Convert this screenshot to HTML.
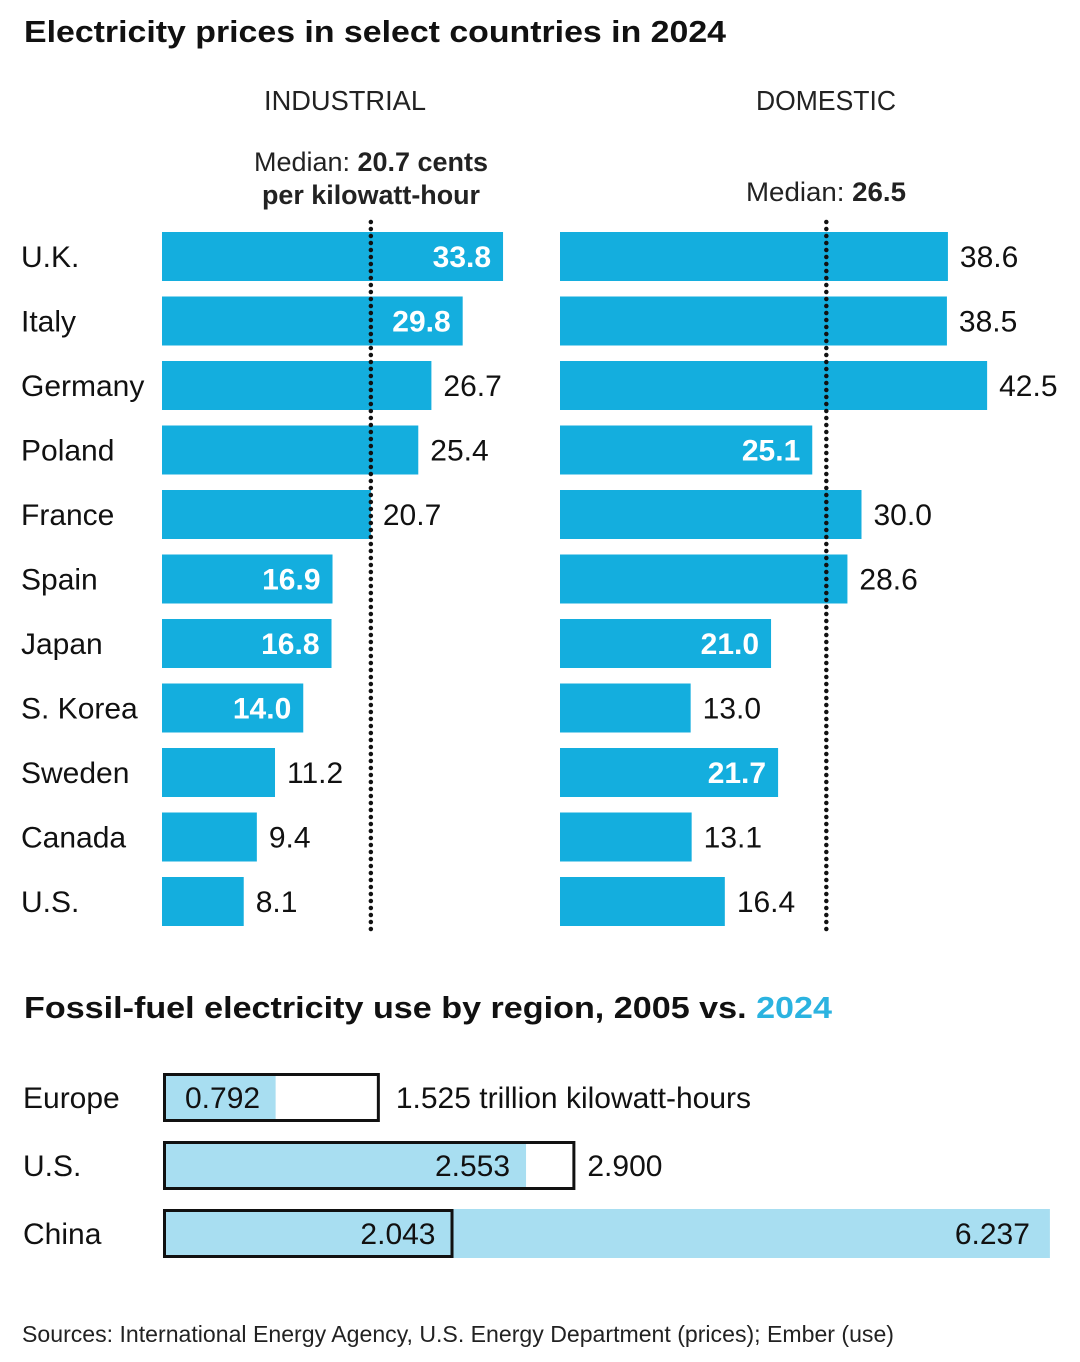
<!DOCTYPE html>
<html><head><meta charset="utf-8">
<style>
html,body{margin:0;padding:0;background:#fff;}
svg{display:block;font-family:"Liberation Sans",sans-serif;}
</style></head>
<body>
<svg id="c" width="1080" height="1362" viewBox="0 0 1080 1362" xmlns="http://www.w3.org/2000/svg">
<text x="24" y="42" font-size="31" font-weight="bold" fill="#111" textLength="702" lengthAdjust="spacingAndGlyphs">Electricity prices in select countries in 2024</text>
<text x="345" y="110" font-size="28" text-anchor="middle" fill="#222" textLength="162" lengthAdjust="spacingAndGlyphs">INDUSTRIAL</text>
<text x="826" y="110" font-size="28" text-anchor="middle" fill="#222" textLength="140" lengthAdjust="spacingAndGlyphs">DOMESTIC</text>
<text x="371" y="171" font-size="27" text-anchor="middle" fill="#222" textLength="234" lengthAdjust="spacingAndGlyphs">Median: <tspan font-weight="bold">20.7 cents</tspan></text>
<text x="371" y="204" font-size="27" text-anchor="middle" font-weight="bold" fill="#222" textLength="218" lengthAdjust="spacingAndGlyphs">per kilowatt-hour</text>
<text x="826" y="201" font-size="27" text-anchor="middle" fill="#222" textLength="160" lengthAdjust="spacingAndGlyphs">Median: <tspan font-weight="bold">26.5</tspan></text>
<g id="rows"></g>
<text x="24" y="1018" font-size="31" font-weight="bold" fill="#111" textLength="808" lengthAdjust="spacingAndGlyphs">Fossil-fuel electricity use by region, 2005 vs. <tspan fill="#2bb3e0">2024</tspan></text>
<g id="fossil"></g>
<text x="22" y="1342" font-size="23" fill="#222" textLength="872" lengthAdjust="spacingAndGlyphs">Sources: International Energy Agency, U.S. Energy Department (prices); Ember (use)</text>
</svg>
<script>
const countries=["U.K.","Italy","Germany","Poland","France","Spain","Japan","S. Korea","Sweden","Canada","U.S."];
const industrial=[33.8,29.8,26.7,25.4,20.7,16.9,16.8,14.0,11.2,9.4,8.1];
const domestic=[38.6,38.5,42.5,25.1,30.0,28.6,21.0,13.0,21.7,13.1,16.4];
const industrialInside=[1,1,0,0,0,1,1,1,0,0,0];
const domesticInside=[0,0,0,1,0,0,1,0,1,0,0];
const industrialMedian=20.7, domesticMedian=26.5;
const regions=["Europe","U.S.","China"];
const use2005=[1.525,2.900,2.043];
const use2024=[0.792,2.553,6.237];

const NS="http://www.w3.org/2000/svg";
const svg=document.getElementById('c');
function mk(tag,attrs,parent,text){const e=document.createElementNS(NS,tag);for(const k in attrs)e.setAttribute(k,attrs[k]);if(text!==undefined)e.textContent=text;(parent||svg).appendChild(e);return e;}
const BLUE="#14aede";
const xI=v=>162+v*10.09;
const xD=v=>560+v*10.05;
const rowY=i=>232+i*64.5;
const BH=49;
const rows=document.getElementById('rows');
countries.forEach((c,i)=>{
  const y=rowY(i);
  const t=mk('text',{x:21,y:y+35,'font-size':30,fill:'#111'},rows,c);
  
  
  const b=mk('rect',{x:162,y:y,width:xI(industrial[i])-162,height:BH,fill:BLUE},rows);
  
  
  const ins=industrialInside[i];
  const l=mk('text',{x:ins?xI(industrial[i])-12:xI(industrial[i])+12,y:y+35,'font-size':30,fill:ins?'#fff':'#111','font-weight':ins?'bold':'normal','text-anchor':ins?'end':'start'},rows,industrial[i].toFixed(1));
  
  
  const b2=mk('rect',{x:560,y:y,width:xD(domestic[i])-560,height:BH,fill:BLUE},rows);
  
  
  const ins2=domesticInside[i];
  const l2=mk('text',{x:ins2?xD(domestic[i])-12:xD(domestic[i])+12,y:y+35,'font-size':30,fill:ins2?'#fff':'#111','font-weight':ins2?'bold':'normal','text-anchor':ins2?'end':'start'},rows,domestic[i].toFixed(1));
  
  
});
const m1=mk('line',{x1:xI(industrialMedian),x2:xI(industrialMedian),y1:222,y2:934,stroke:'#111','stroke-width':4.5,'stroke-dasharray':'0 7','stroke-linecap':'round'});


const m2=mk('line',{x1:xD(domesticMedian),x2:xD(domesticMedian),y1:222,y2:934,stroke:'#111','stroke-width':4.5,'stroke-dasharray':'0 7','stroke-linecap':'round'});



const xF=v=>163+v*142.2;
const fy=i=>1073+i*68;
const FH=49;
const fg=document.getElementById('fossil');
regions.forEach((r,i)=>{
  const y=fy(i);
  const t=mk('text',{x:23,y:y+35,'font-size':30,fill:'#111'},fg,r);
  
  
  const f=mk('rect',{x:163,y:y,width:xF(use2024[i])-163,height:FH,fill:'#a8def1'},fg);
  
  
  const o=mk('rect',{x:164.5,y:y+1.5,width:xF(use2005[i])-166,height:FH-3,fill:'none',stroke:'#111','stroke-width':3},fg);
  
  
  let l1,l2;
  if(i===0){
    l1=mk('text',{x:185,y:y+35,'font-size':30,fill:'#111'},fg,use2024[i].toFixed(3));
    l2=mk('text',{x:xF(use2005[i])+16,y:y+35,'font-size':30,fill:'#111'},fg,use2005[i].toFixed(3)+" trillion kilowatt-hours");
  }else if(i===1){
    l1=mk('text',{x:xF(use2024[i])-16,y:y+35,'font-size':30,fill:'#111','text-anchor':'end'},fg,use2024[i].toFixed(3));
    l2=mk('text',{x:xF(use2005[i])+12,y:y+35,'font-size':30,fill:'#111'},fg,use2005[i].toFixed(3));
  }else{
    l1=mk('text',{x:xF(use2024[i])-20,y:y+35,'font-size':30,fill:'#111','text-anchor':'end'},fg,use2024[i].toFixed(3));
    l2=mk('text',{x:xF(use2005[i])-18,y:y+35,'font-size':30,fill:'#111','text-anchor':'end'},fg,use2005[i].toFixed(3));
  }
  
  
  
  
});
</script>
</body></html>
